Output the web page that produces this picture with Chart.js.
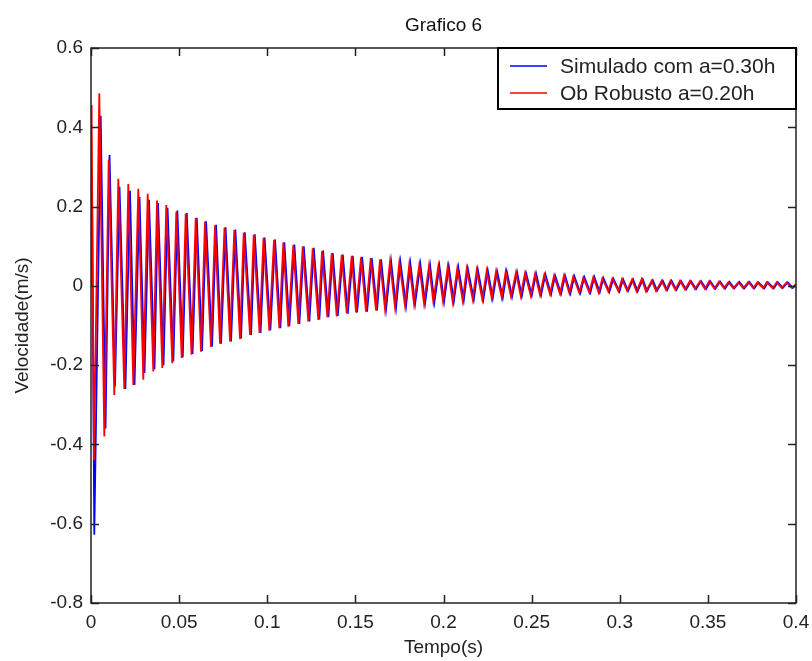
<!DOCTYPE html>
<html>
<head>
<meta charset="utf-8">
<title>Grafico 6</title>
<script src="https://cdn.jsdelivr.net/npm/chart.js@4.4.1/dist/chart.umd.min.js"></script>
<style>
	body { margin: 0; background: #fff; }
	#wrap { width: 812px; height: 661px; position: relative; }
</style>
</head>
<body>
<div id="wrap"><canvas id="grafico"></canvas></div>
<script>
// picos e vales (tempo em s, velocidade em m/s)
const tempoRobusto = [0, 0.00034, 0.00170, 0.00471, 0.00755, 0.01004, 0.01322, 0.01549, 0.01889, 0.02116,
	0.02400, 0.02684, 0.02967, 0.03217, 0.03535, 0.03745, 0.04046, 0.04272, 0.04613, 0.04840,
	0.05146, 0.05373, 0.05702, 0.05941, 0.06241, 0.06468, 0.06809, 0.07036, 0.07319, 0.07575,
	0.07887, 0.08131, 0.08454, 0.08664, 0.09022, 0.09232, 0.09561, 0.09788, 0.10117, 0.10383,
	0.10684, 0.10911, 0.11195, 0.11478, 0.11762, 0.12012, 0.12330, 0.12579, 0.12897, 0.13107,
	0.13408, 0.13657, 0.13941, 0.14225, 0.14508, 0.14792, 0.15036, 0.15320, 0.15604, 0.15870,
	0.16171, 0.16398, 0.16682, 0.16965, 0.17249, 0.17493, 0.17816, 0.18060, 0.18327, 0.18628,
	0.18894, 0.19178, 0.19422, 0.19706, 0.19972, 0.20239, 0.20523, 0.20784, 0.21090, 0.21317,
	0.21658, 0.21885, 0.22202, 0.22452, 0.22736, 0.22980, 0.23303, 0.23530, 0.23831, 0.24115,
	0.24381, 0.24625, 0.24949, 0.25193, 0.25476, 0.25720, 0.26044, 0.26271, 0.26611, 0.26838,
	0.27139, 0.27366, 0.27706, 0.27933, 0.28273, 0.28500, 0.28807, 0.29011, 0.29352, 0.29578,
	0.29919, 0.30129, 0.30413, 0.30696, 0.30952, 0.31247, 0.31491, 0.31814, 0.32058, 0.32382,
	0.32626, 0.32881, 0.33153, 0.33420, 0.33704, 0.33987, 0.34271, 0.34555, 0.34838, 0.35082,
	0.35366, 0.35633, 0.35916, 0.36160, 0.36444, 0.36728, 0.37011, 0.37295, 0.37579, 0.37806,
	0.38146, 0.38339, 0.38680, 0.38907, 0.39190, 0.39474, 0.39758, 0.4];

const velRobusto = [0, 0.456, -0.44, 0.486, -0.38, 0.318, -0.275, 0.27, -0.26, 0.257,
	-0.25, 0.245, -0.237, 0.232, -0.216, 0.215, -0.207, 0.204, -0.195, 0.187,
	-0.182, 0.182, -0.174, 0.171, -0.166, 0.162, -0.154, 0.153, -0.146, 0.147,
	-0.14, 0.141, -0.134, 0.134, -0.124, 0.129, -0.119, 0.121, -0.113, 0.116,
	-0.107, 0.109, -0.103, 0.103, -0.096, 0.099, -0.09, 0.095, -0.086, 0.088,
	-0.079, 0.082, -0.077, 0.078, -0.069, 0.076, -0.067, 0.072, -0.065, 0.07,
	-0.062, 0.066, -0.059, 0.061, -0.054, 0.059, -0.05, 0.055, -0.045, 0.053,
	-0.044, 0.051, -0.04, 0.049, -0.039, 0.048, -0.04, 0.045, -0.037, 0.043,
	-0.034, 0.04, -0.034, 0.038, -0.031, 0.036, -0.029, 0.036, -0.027, 0.034,
	-0.025, 0.032, -0.024, 0.03, -0.023, 0.028, -0.021, 0.025, -0.02, 0.026,
	-0.018, 0.024, -0.018, 0.021, -0.017, 0.022, -0.017, 0.019, -0.014, 0.018,
	-0.013, 0.017, -0.012, 0.016, -0.014, 0.017, -0.014, 0.013, -0.013, 0.013,
	-0.01, 0.013, -0.01, 0.013, -0.009, 0.013, -0.008, 0.012, -0.008, 0.012,
	-0.007, 0.011, -0.006, 0.009, -0.006, 0.009, -0.006, 0.01, -0.006, 0.009,
	-0.006, 0.009, -0.006, 0.009, -0.005, 0.009, -0.005, 0.004];

const tempoSimulado = [0, 0.0006, 0.00187, 0.00550, 0.00823, 0.01050, 0.01362, 0.01617, 0.01952, 0.02213,
	0.02468, 0.02752, 0.03035, 0.03291, 0.03603, 0.03802, 0.04114, 0.04341, 0.04673, 0.04900,
	0.05206, 0.05433, 0.05762, 0.06001, 0.06301, 0.06528, 0.06869, 0.07096, 0.07379, 0.07635,
	0.07947, 0.08191, 0.08514, 0.08724, 0.09082, 0.09292, 0.09621, 0.09848, 0.10177, 0.10443,
	0.10744, 0.10971, 0.11255, 0.11538, 0.11822, 0.12072, 0.12390, 0.12639, 0.12957, 0.13167,
	0.13468, 0.13717, 0.14001, 0.14285, 0.14568, 0.14852, 0.15096, 0.15380, 0.15664, 0.15930,
	0.16231, 0.16458, 0.16742, 0.17025, 0.17309, 0.17553, 0.17876, 0.18120, 0.18387, 0.18688,
	0.18954, 0.19238, 0.19482, 0.19766, 0.20032, 0.20299, 0.20583, 0.20844, 0.21150, 0.21377,
	0.21718, 0.21945, 0.22262, 0.22512, 0.22796, 0.23040, 0.23363, 0.23590, 0.23891, 0.24175,
	0.24441, 0.24685, 0.25009, 0.25253, 0.25536, 0.25780, 0.26104, 0.26331, 0.26671, 0.26898,
	0.27199, 0.27426, 0.27766, 0.27993, 0.28333, 0.28560, 0.28867, 0.29071, 0.29412, 0.29638,
	0.29979, 0.30189, 0.30473, 0.30756, 0.31012, 0.31307, 0.31551, 0.31874, 0.32118, 0.32442,
	0.32686, 0.32941, 0.33213, 0.33480, 0.33764, 0.34047, 0.34331, 0.34615, 0.34898, 0.35142,
	0.35426, 0.35693, 0.35976, 0.36220, 0.36504, 0.36788, 0.37071, 0.37355, 0.37639, 0.37866,
	0.38206, 0.38399, 0.38740, 0.38967, 0.39250, 0.39534, 0.39818, 0.4];

const velSimulado = [0, 0.24, -0.628, 0.429, -0.36, 0.33, -0.254, 0.25, -0.26, 0.24,
	-0.25, 0.224, -0.22, 0.217, -0.21, 0.209, -0.2, 0.197, -0.19, 0.19,
	-0.18, 0.184, -0.172, 0.172, -0.164, 0.163, -0.153, 0.154, -0.146, 0.148,
	-0.14, 0.142, -0.133, 0.135, -0.124, 0.13, -0.119, 0.122, -0.112, 0.117,
	-0.107, 0.11, -0.102, 0.104, -0.096, 0.1, -0.09, 0.096, -0.085, 0.089,
	-0.079, 0.083, -0.076, 0.079, -0.07, 0.076, -0.067, 0.073, -0.065, 0.07,
	-0.062, 0.067, -0.058, 0.062, -0.054, 0.06, -0.05, 0.056, -0.046, 0.054,
	-0.044, 0.052, -0.041, 0.05, -0.04, 0.049, -0.04, 0.046, -0.037, 0.044,
	-0.035, 0.041, -0.034, 0.039, -0.031, 0.037, -0.03, 0.036, -0.027, 0.034,
	-0.026, 0.032, -0.024, 0.031, -0.023, 0.029, -0.021, 0.026, -0.02, 0.026,
	-0.019, 0.024, -0.018, 0.022, -0.017, 0.022, -0.016, 0.02, -0.015, 0.018,
	-0.014, 0.017, -0.013, 0.016, -0.014, 0.016, -0.013, 0.014, -0.012, 0.013,
	-0.011, 0.013, -0.01, 0.012, -0.009, 0.012, -0.008, 0.012, -0.008, 0.011,
	-0.007, 0.011, -0.007, 0.01, -0.006, 0.01, -0.006, 0.01, -0.006, 0.009,
	-0.006, 0.009, -0.006, 0.009, -0.005, 0.009, -0.005, 0.003];

const nomes = ['Simulado com a=0.30h', 'Ob Robusto a=0.20h'];
const cores = ['#0000ff', '#ff0000'];

const fonte = '"Liberation Sans", Arial, sans-serif';

function pares(xs, ys) {
	return xs.map(function(x, i) { return { x: x, y: ys[i] }; });
}

function rotulo(v) {
	return Number(v.toFixed(2)).toString();
}

// caixa, marcas para dentro, titulo e legenda no estilo do MATLAB
const moldura = {
	id: 'moldura',
	afterDraw: function(chart) {
		const c = chart.ctx;
		const a = chart.chartArea;
		const sx = chart.scales.x;
		const sy = chart.scales.y;
		c.save();
		c.strokeStyle = '#222';
		c.lineWidth = 1.5;
		c.beginPath();
		sx.ticks.forEach(function(t) {
			const px = Math.round(sx.getPixelForValue(t.value)) + 0.5;
			c.moveTo(px, a.bottom); c.lineTo(px, a.bottom - 8);
			c.moveTo(px, a.top); c.lineTo(px, a.top + 8);
		});
		sy.ticks.forEach(function(t) {
			const py = Math.round(sy.getPixelForValue(t.value)) + 0.5;
			c.moveTo(a.left, py); c.lineTo(a.left + 8, py);
			c.moveTo(a.right, py); c.lineTo(a.right - 8, py);
		});
		c.stroke();
		c.strokeRect(a.left, a.top, a.right - a.left, a.bottom - a.top);

		c.fillStyle = '#111';
		c.font = '19px ' + fonte;
		c.textAlign = 'center';
		c.textBaseline = 'middle';
		c.fillText('Grafico 6', (a.left + a.right) / 2, 26);

		// legenda
		const lw = 298, lh = 61;
		const lx = a.right - lw, ly = a.top;
		c.fillStyle = '#fff';
		c.fillRect(lx, ly, lw, lh);
		c.lineWidth = 2;
		c.strokeStyle = '#000';
		c.strokeRect(lx, ly, lw, lh);
		c.font = '21px ' + fonte;
		c.textAlign = 'left';
		for (let i = 0; i < nomes.length; i++) {
			const yy = ly + 18 + i * 27;
			c.strokeStyle = cores[i];
			c.lineWidth = 1.5;
			c.beginPath();
			c.moveTo(lx + 12, yy); c.lineTo(lx + 49, yy);
			c.stroke();
			c.fillStyle = '#222';
			c.fillText(nomes[i], lx + 62, yy + 1);
		}
		c.restore();
	}
};

new Chart(document.getElementById('grafico'), {
	type: 'line',
	data: {
		datasets: [
			{
				label: nomes[0],
				data: pares(tempoSimulado, velSimulado),
				borderColor: cores[0],
				borderWidth: 1.8,
				pointRadius: 0,
				tension: 0,
				order: 2
			},
			{
				label: nomes[1],
				data: pares(tempoRobusto, velRobusto),
				borderColor: cores[1],
				borderWidth: 1.8,
				pointRadius: 0,
				tension: 0,
				order: 1
			}
		]
	},
	options: {
		responsive: true,
		maintainAspectRatio: false,
		animation: false,
		layout: { padding: { top: 48, right: 16, left: 0, bottom: 0 } },
		plugins: {
			legend: { display: false },
			tooltip: { enabled: false }
		},
		scales: {
			x: {
				type: 'linear',
				min: 0,
				max: 0.4,
				grid: { display: false, drawTicks: false },
				border: { display: false },
				afterFit: function(s) {
					s.height = 58;
					s.paddingLeft = 0;
					s.paddingRight = 0;
				},
				ticks: {
					stepSize: 0.05,
					autoSkip: false,
					maxRotation: 0,
					padding: 8,
					color: '#222',
					font: { family: fonte, size: 19 },
					callback: rotulo
				},
				title: {
					display: true,
					text: 'Tempo(s)',
					color: '#222',
					padding: { top: 0, bottom: 2 },
					font: { family: fonte, size: 19 }
				}
			},
			y: {
				min: -0.8,
				max: 0.6,
				grid: { display: false, drawTicks: false },
				border: { display: false },
				afterFit: function(s) {
					s.width = 91;
					s.paddingTop = 0;
					s.paddingBottom = 0;
				},
				ticks: {
					stepSize: 0.2,
					padding: 8,
					color: '#222',
					font: { family: fonte, size: 19 },
					callback: rotulo
				},
				title: {
					display: true,
					text: 'Velocidade(m/s)',
					color: '#222',
					padding: { top: 11, bottom: 0 },
					font: { family: fonte, size: 19 }
				}
			}
		}
	},
	plugins: [moldura]
});
</script>
</body>
</html>
